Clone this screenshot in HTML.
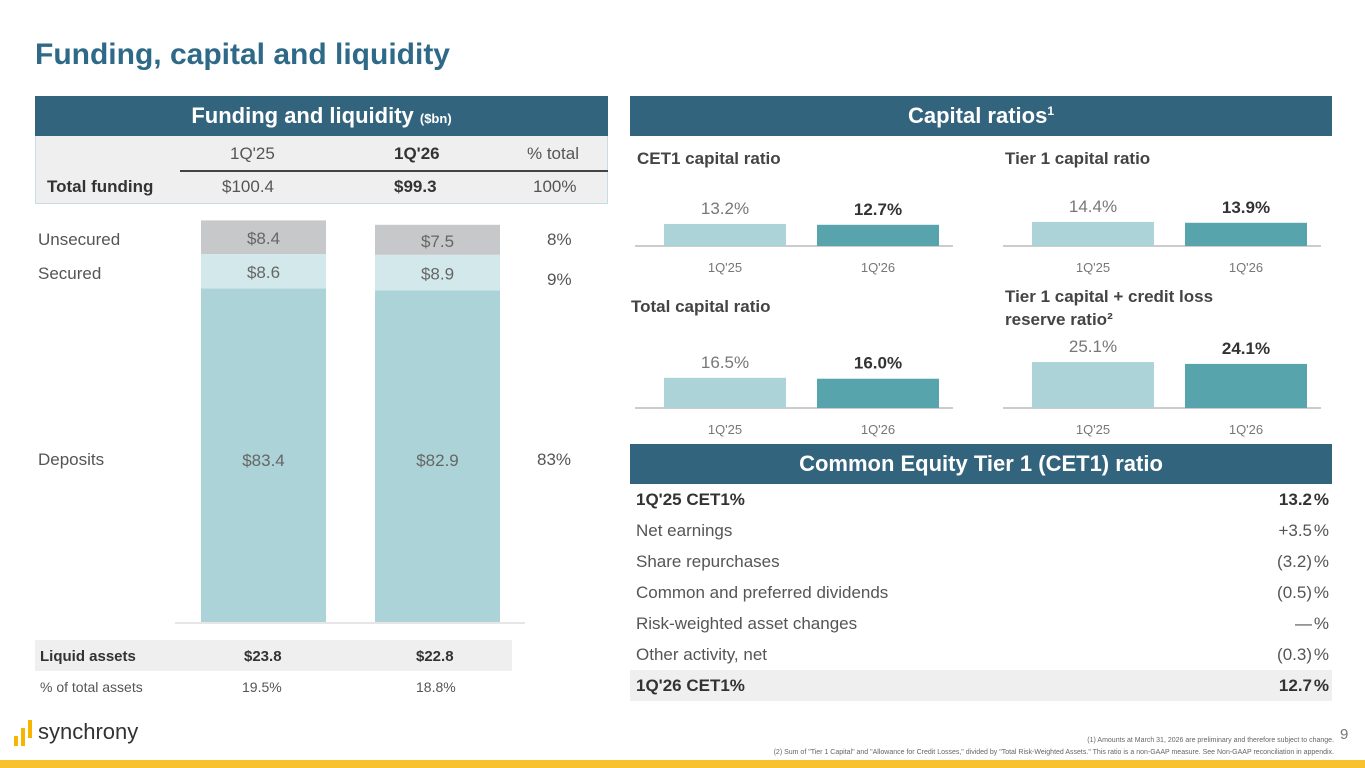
<!DOCTYPE html>
<html><head><meta charset="utf-8"><style>
body{margin:0;width:1365px;height:768px;position:relative;background:#fff;font-family:"Liberation Sans",sans-serif;color:#444;overflow:hidden}
.a{position:absolute;white-space:nowrap}
.hdr{position:absolute;background:#33647d;color:#fff;font-weight:bold;font-size:22px;text-align:center;line-height:40px;height:40px}
.l{font-size:17px;color:#555}
.row{position:absolute;left:608px;width:722px;height:31px;font-size:17px;color:#555;line-height:31px}
.row span{position:absolute}
</style></head><body>
<div class="a" style="left:35px;top:38px;font-size:30px;font-weight:bold;color:#2e6a88">Funding, capital and liquidity</div>

<div class="hdr" style="left:35px;top:96px;width:573px">Funding and liquidity <span style="font-size:13px">($bn)</span></div>
<div class="a" style="left:35px;top:136px;width:571px;height:67px;background:#efefef;border:1px solid #c5dde3;border-top:none"></div>
<div class="a" style="left:180px;top:170px;width:428px;height:2px;background:#444"></div>
<div class="a l" style="left:230px;top:144px">1Q'25</div>
<div class="a l" style="left:394px;top:144px;font-weight:bold;color:#333">1Q'26</div>
<div class="a l" style="left:527px;top:144px">% total</div>
<div class="a l" style="left:47px;top:177px;font-weight:bold;color:#333">Total funding</div>
<div class="a l" style="left:222px;top:177px">$100.4</div>
<div class="a l" style="left:394px;top:177px;font-weight:bold;color:#333">$99.3</div>
<div class="a l" style="left:533px;top:177px">100%</div>

<svg class="a" style="left:0;top:0" width="620" height="640" id="fc"></svg>
<div class="a l" style="left:38px;top:230px">Unsecured</div>
<div class="a l" style="left:38px;top:264px">Secured</div>
<div class="a l" style="left:38px;top:450px">Deposits</div>
<div class="a l" style="left:547px;top:230px">8%</div>
<div class="a l" style="left:547px;top:270px">9%</div>
<div class="a l" style="left:537px;top:450px">83%</div>

<div class="a" style="left:35px;top:640px;width:477px;height:31px;background:#efefef"></div>
<div class="a" style="left:40px;top:648px;font-size:15px;font-weight:bold;color:#333">Liquid assets</div>
<div class="a" style="left:244px;top:648px;font-size:15px;font-weight:bold;color:#333">$23.8</div>
<div class="a" style="left:416px;top:648px;font-size:15px;font-weight:bold;color:#333">$22.8</div>
<div class="a" style="left:40px;top:679px;font-size:14px;color:#555">% of total assets</div>
<div class="a" style="left:242px;top:679px;font-size:14px;color:#555">19.5%</div>
<div class="a" style="left:416px;top:679px;font-size:14px;color:#555">18.8%</div>

<div class="hdr" style="left:630px;top:96px;width:702px">Capital ratios<span style="font-size:12px;position:relative;top:-8px">1</span></div>
<svg class="a" style="left:620px;top:140px" width="720" height="300" id="cc"></svg>

<div class="hdr" style="left:630px;top:444px;width:702px">Common Equity Tier 1 (CET1) ratio</div>
<div class="a" id="ct" style="left:0;top:0"></div>

<div class="a" style="left:14px;top:718px;width:42px;height:30px">
<div class="a" style="left:0;top:18px;width:4px;height:10px;background:#f7b500"></div>
<div class="a" style="left:7px;top:10px;width:4px;height:18px;background:#f7b500"></div>
<div class="a" style="left:14px;top:2px;width:4px;height:18px;background:#f7b500"></div>
<div class="a" style="left:24px;top:1px;font-size:22px;color:#333">synchrony</div></div>
<div class="a" style="left:1340px;top:726px;font-size:15px;color:#777">9</div>
<div class="a" style="right:31px;top:737px;font-size:7px;color:#666">(1) Amounts at March 31, 2026 are preliminary and therefore subject to change.</div>
<div class="a" style="right:31px;top:749px;font-size:7px;color:#666">(2) Sum of "Tier 1 Capital" and "Allowance for Credit Losses," divided by "Total Risk-Weighted Assets." This ratio is a non-GAAP measure. See Non-GAAP reconciliation in appendix.</div>
<div class="a" style="left:0;top:760px;width:1365px;height:8px;background:#f7c22e"></div>

<script>
const periods=["1Q'25","1Q'26"];
const deposits=[83.4,82.9];
const secured=[8.6,8.9];
const unsecured=[8.4,7.5];
const ratioTitles=["CET1 capital ratio","Tier 1 capital ratio","Total capital ratio","Tier 1 capital + credit loss|reserve ratio²"];
const ratio1Q25=[13.2,14.4,16.5,25.1];
const ratio1Q26=[12.7,13.9,16.0,24.1];
const cetLabels=["1Q'25 CET1%","Net earnings","Share repurchases","Common and preferred dividends","Risk-weighted asset changes","Other activity, net","1Q'26 CET1%"];
const cetValues=["13.2","+3.5","(3.2)","(0.5)","—","(0.3)","12.7"];
const NS="http://www.w3.org/2000/svg";
function mk(p,t,a,txt){const e=document.createElementNS(NS,t);for(const k in a)e.setAttribute(k,a[k]);if(txt!==undefined)e.textContent=txt;p.appendChild(e);return e;}
// funding chart
const fc=document.getElementById('fc');
const base=622,k=4.0,bx=[201,375],bw=125;
const y=v=>base-v*k;
mk(fc,'line',{x1:175,x2:525,y1:base+1,y2:base+1,stroke:'#ccc'});
periods.forEach((p,i)=>{
 const segs=[[deposits[i],'#acd3d7','deposits'],[secured[i],'#d3e8eb','secured'],[unsecured[i],'#c7c8c9','unsecured']];
 let c=0;
 segs.forEach(s=>{
  const r=mk(fc,'rect',{x:bx[i],y:y(c+s[0]),width:bw,height:s[0]*k,fill:s[1]});
  
  
  const ty=s[2]==='deposits'?466:y(c+s[0])+s[0]*k/2+7;
  mk(fc,'text',{x:bx[i]+bw/2,y:ty,'text-anchor':'middle','font-size':17,fill:'#666','font-family':'Liberation Sans'},'$'+s[0].toFixed(1));
  c+=s[0];
 });
});
// capital charts
const cc=document.getElementById('cc');
const ox=[15,383],oy=[106,268],kk=[1.67,1.83];
ratioTitles.forEach((t,j)=>{
 const gx=ox[j%2],r=Math.floor(j/2),by=oy[r];
 const lines=t.split('|');
 lines.forEach((ln,li)=>mk(cc,'text',{x:gx+(r==1&&j==2?-6:0)+2,y:(r==0?24:(lines.length>1?162:172))+li*23,'font-size':17,'font-weight':'bold',fill:'#444','font-family':'Liberation Sans'},ln));
 mk(cc,'line',{x1:gx,x2:gx+318,y1:by,y2:by,stroke:'#999'});
 [[ratio1Q25[j],'#acd3d7',29,'normal','#777'],[ratio1Q26[j],'#58a4ad',182,'bold','#333']].forEach((b,i)=>{
  const h=b[0]*kk[r];
  const re=mk(cc,'rect',{x:gx+b[2],y:by-h,width:122,height:h,fill:b[1]});
  
  
  mk(cc,'text',{x:gx+b[2]+61,y:by-h-10,'text-anchor':'middle','font-size':17,'font-weight':b[3],fill:b[4],'font-family':'Liberation Sans'},b[0].toFixed(1)+'%');
  mk(cc,'text',{x:gx+b[2]+61,y:by+26,'text-anchor':'middle','font-size':13,fill:'#777','font-family':'Liberation Sans'},periods[i]);
 });
});
// cet1 table
const ct=document.getElementById('ct');
cetLabels.forEach((l,i)=>{
 const d=document.createElement('div');
 d.className='row';
 
 
 const bold=(i==0||i==6);
 d.style.top=(484+i*31)+'px';
 d.style.left='630px';d.style.width='702px';
 if(i==6)d.style.background='#efefef';
 if(bold){d.style.fontWeight='bold';d.style.color='#333';}
 d.innerHTML='<span style="left:6px">'+l+'</span><span style="right:20px;text-align:right">'+cetValues[i]+'</span><span style="right:3px">%</span>';
 ct.appendChild(d);
});
</script>
</body></html>
